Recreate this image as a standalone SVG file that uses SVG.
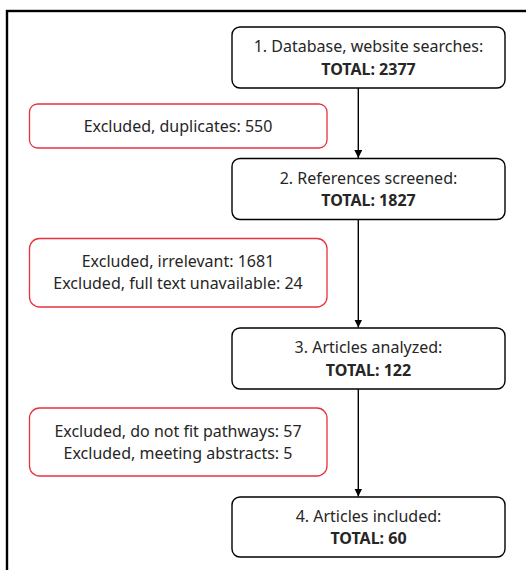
<svg xmlns="http://www.w3.org/2000/svg" width="526" height="570" viewBox="0 0 526 570">
<defs>
<style>
.box{fill:#fff;stroke:#000;stroke-width:1.4}
.red{fill:#fff;stroke:#e8323c;stroke-width:1.3}
text{font-family:"Noto Sans","Open Sans",sans-serif;font-size:16px;fill:#262626;text-anchor:middle}
.b{font-weight:bold}
.c{stroke:#000;stroke-width:1.4;fill:none}
</style>
<marker id="ah" markerWidth="8" markerHeight="8" refX="8" refY="4" orient="auto" markerUnits="userSpaceOnUse">
<path d="M0,0 L8,4 L0,8 Z" fill="#000"/>
</marker>
</defs>
<rect width="526" height="570" fill="#fff"/>
<rect x="7" y="11" width="540" height="580" fill="none" stroke="#000" stroke-width="2.4"/>
<g id="connectors">
<line class="c" x1="358.3" y1="88" x2="358.3" y2="158" marker-end="url(#ah)"/>
<line class="c" x1="358.3" y1="219" x2="358.3" y2="327.5" marker-end="url(#ah)"/>
<line class="c" x1="358.3" y1="389" x2="358.3" y2="496.5" marker-end="url(#ah)"/>
</g>
<g id="n1">
<rect class="box" x="232" y="27" width="273" height="61" rx="8"/>
<text x="368.5" y="52">1. Database, website searches:</text>
<text class="b" x="368.5" y="75">TOTAL: 2377</text>
</g>
<g id="x1">
<rect class="red" x="29.5" y="104" width="297.5" height="44" rx="8"/>
<text x="178" y="132">Excluded, duplicates: 550</text>
</g>
<g id="n2">
<rect class="box" x="232" y="158.5" width="273" height="61" rx="8"/>
<text x="368.5" y="184">2. References screened:</text>
<text class="b" x="368.5" y="206">TOTAL: 1827</text>
</g>
<g id="x2">
<rect class="red" x="29.5" y="238.5" width="297.5" height="68.5" rx="10"/>
<text x="178" y="267">Excluded, irrelevant: 1681</text>
<text x="178" y="289">Excluded, full text unavailable: 24</text>
</g>
<g id="n3">
<rect class="box" x="232" y="328" width="273" height="61" rx="8"/>
<text x="368.5" y="353">3. Articles analyzed:</text>
<text class="b" x="368.5" y="376">TOTAL: 122</text>
</g>
<g id="x3">
<rect class="red" x="29.5" y="408" width="297.5" height="68" rx="10"/>
<text x="178" y="437">Excluded, do not fit pathways: 57</text>
<text x="178" y="459">Excluded, meeting abstracts: 5</text>
</g>
<g id="n4">
<rect class="box" x="232" y="497" width="273" height="60" rx="8"/>
<text x="368.5" y="522">4. Articles included:</text>
<text class="b" x="368.5" y="544">TOTAL: 60</text>
</g>
</svg>
